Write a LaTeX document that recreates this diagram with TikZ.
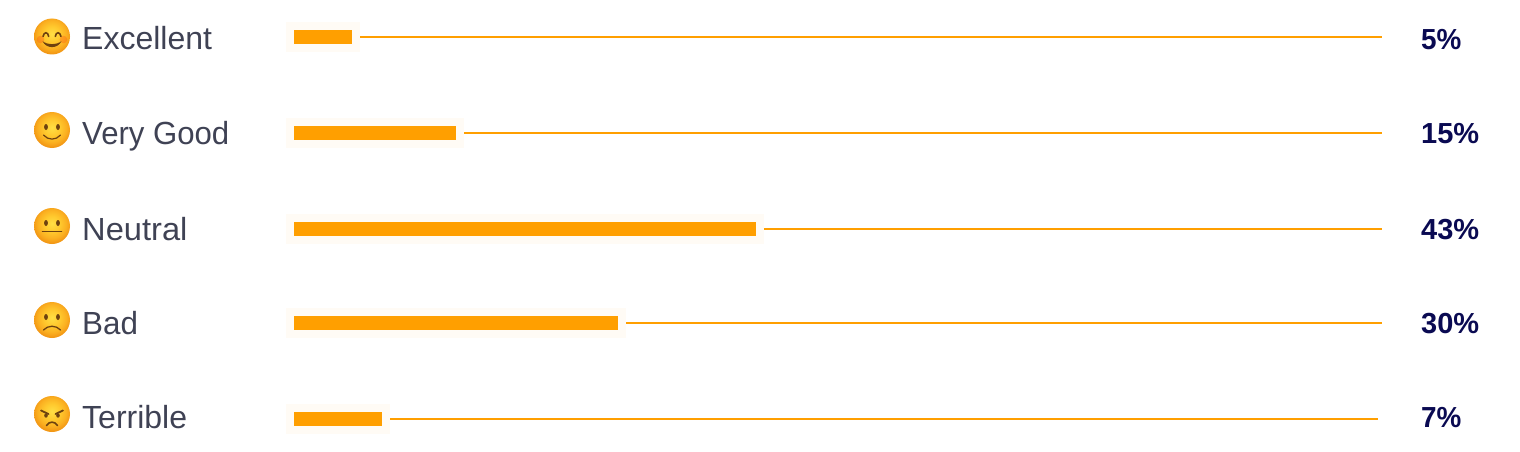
\documentclass[tikz,border=0pt]{standalone}
\usepackage{fontspec}
\setmainfont{Liberation Sans}
\definecolor{barc}{HTML}{FF9F00}
\definecolor{haloc}{HTML}{FFFBF5}
\definecolor{labelc}{HTML}{3F4254}
\definecolor{pctc}{HTML}{0A0A52}
\definecolor{facea}{HTML}{FFDF45}
\definecolor{faceb}{HTML}{FFC92E}
\definecolor{facec}{HTML}{FBB021}
\definecolor{faced}{HTML}{EF8E10}
\definecolor{feat}{HTML}{6E420F}
\pgfdeclareradialshading{emoface}{\pgfpoint{0bp}{3.5bp}}{color(0bp)=(facea);color(11bp)=(faceb);color(20bp)=(facec);color(25bp)=(faced!60!facec);color(29bp)=(faced);color(100bp)=(faced)}
\tikzset{
  x=1pt,y=-1pt,
  halo/.style={draw=none,fill=haloc,inner sep=0pt,outer sep=0pt,minimum height=30pt,anchor=west},
  barfill/.style={draw=none,fill=barc,inner sep=0pt,outer sep=0pt,minimum height=14pt,anchor=west},
  track/.style={draw=barc,line width=2pt},
  rowlabel/.style={anchor=base west,inner sep=0pt,text=labelc,font=\fontsize{32}{36}\selectfont},
  pct/.style={anchor=base west,inner sep=0pt,text=pctc,font=\fontsize{29}{34}\selectfont\bfseries},
  facebase/.style={draw=none,shading=emoface},
  featline/.style={draw=feat,line width=1.6pt,line cap=round},
  featfill/.style={fill=feat,draw=none},
}
\newcommand{\barrow}[4]{%
  \node[halo,minimum width={#2+16pt}] (halo#1) at (286,#3) {};
  \node[barfill,minimum width=#2] (bar#1) at (294,#3) {};
  \coordinate (end#1) at (#4,#3);
  \draw[track] (halo#1.east) -- (end#1);
}
\newcommand{\eyes}{%
  \fill[featfill] (-6,-3) ellipse [x radius=1.9,y radius=3];
  \fill[featfill] (6,-3) ellipse [x radius=1.9,y radius=3];
}
\begin{document}
\begin{tikzpicture}
\useasboundingbox (0,0) rectangle (1520,452);
\barrow{a}{58pt}{37}{1382}
\barrow{b}{162pt}{133}{1382}
\barrow{c}{462pt}{229}{1382}
\barrow{d}{324pt}{323}{1382}
\barrow{e}{88pt}{419}{1378}
\node[rowlabel] (la) at (82,50) {Excellent};
\node[rowlabel] (lb) at (82,144) {\scalebox{0.973}[1]{Very Good}};
\node[rowlabel] (lc) at (82,240) {\scalebox{1.02}[1]{Neutral}};
\node[rowlabel] (ld) at (82,334) {\scalebox{0.98}[1]{Bad}};
\node[rowlabel] (le) at (82,428.5) {Terrible};
\node[pct] (pa) at (1421,49.5) {\scalebox{0.96}[1]{5\%}};
\node[pct] (pb) at (1421,143.5) {15\%};
\node[pct] (pc) at (1421,239.5) {43\%};
\node[pct] (pd) at (1421,333.5) {30\%};
\node[pct] (pe) at (1421,427.5) {\scalebox{0.96}[1]{7\%}};
\begin{scope}[shift={(52,36.5)}]
  \shade[facebase] (0,0) circle (18);
  \fill[red!80!facec,opacity=.22] (-11.5,3) circle (3.8);
  \fill[red!80!facec,opacity=.22] (11.5,3) circle (3.8);
  \draw[featline] (-9,0) .. controls (-8,-5) and (-4,-5) .. (-3.3,0);
  \draw[featline] (3.3,0) .. controls (4,-5) and (8,-5) .. (9,0);
  \fill[featfill] (-9.5,4.6) .. controls (-6,12.6) and (6,12.6) .. (9.5,4.6) .. controls (5,8.6) and (-5,8.6) .. cycle;
\end{scope}
\begin{scope}[shift={(52,130)}]
  \shade[facebase] (0,0) circle (18);
  \eyes
  \draw[featline,line width=1.2pt] (-8.5,5) .. controls (-4,10.5) and (4,10.5) .. (8.5,5);
\end{scope}
\begin{scope}[shift={(52,226)}]
  \shade[facebase] (0,0) circle (18);
  \eyes
  \draw[featline] (-9.5,5.5) -- (9.5,5.5);
\end{scope}
\begin{scope}[shift={(52,320)}]
  \shade[facebase] (0,0) circle (18);
  \eyes
  \draw[featline,line width=1.3pt] (-8.5,10) .. controls (-4,5) and (4,5) .. (8.5,10);
\end{scope}
\begin{scope}[shift={(52,414)}]
  \shade[facebase] (0,0) circle (18);
  \draw[featline,line width=1.8pt] (-11,-3.5) -- (-3.5,0);
  \draw[featline,line width=1.8pt] (11,-3.5) -- (3.5,0);
  \fill[featfill] (-6,1.5) ellipse [x radius=1.8,y radius=2.2];
  \fill[featfill] (6,1.5) ellipse [x radius=1.8,y radius=2.2];
  \draw[featline] (-5.5,11.5) .. controls (-3,7) and (3,7) .. (5.5,11.5);
\end{scope}
\end{tikzpicture}
\end{document}
